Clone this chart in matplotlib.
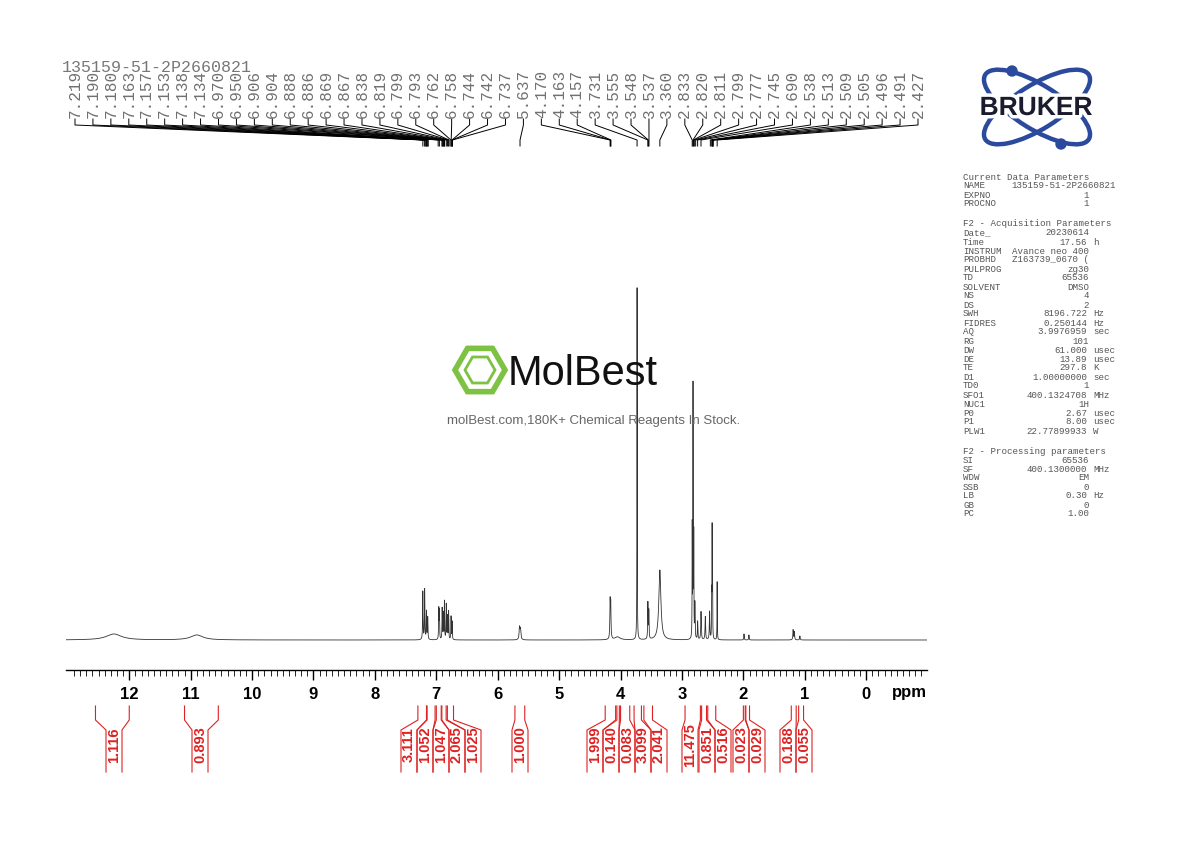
import numpy as np
import matplotlib
matplotlib.use("Agg")
import matplotlib.pyplot as plt
from matplotlib.patches import Ellipse, RegularPolygon, Circle
import matplotlib.patheffects as pe

W, H = 1190, 842
sample_name = "135159-51-2P2660821"

peak_labels = [7.219, 7.190, 7.180, 7.163, 7.157, 7.153, 7.138, 7.134, 6.970, 6.950,
               6.906, 6.904, 6.888, 6.886, 6.869, 6.867, 6.838, 6.819, 6.799, 6.793,
               6.762, 6.758, 6.744, 6.742, 6.737, 5.637, 4.170, 4.163, 4.157, 3.731,
               3.555, 3.548, 3.537, 3.360, 2.833, 2.820, 2.811, 2.799, 2.777, 2.745,
               2.690, 2.538, 2.513, 2.509, 2.505, 2.496, 2.491, 2.427]

peak_ppm = [12.25, 10.90, 7.22, 7.19, 7.16, 7.14, 6.96, 6.95, 6.905, 6.887, 6.868, 6.838,
            6.819, 6.80, 6.76, 6.743, 5.645, 5.630, 4.170, 4.160, 4.05, 3.731, 3.555, 3.540,
            3.360, 2.833, 2.820, 2.808, 2.79, 2.745, 2.69, 2.62, 2.55, 2.516, 2.509, 2.502,
            2.427, 1.99, 1.91, 1.19, 1.17, 1.08]
peak_height = [6, 5, 48, 50, 28, 22, 30, 28, 31, 26, 38, 35,
               23, 28, 23, 18, 12, 10, 36, 33, 3, 352, 36, 28,
               70, 110, 250, 100, 35, 18, 28, 23, 28, 40, 106, 55,
               58, 6, 5, 10, 8, 4]
peak_width = [0.15, 0.12, 0.004, 0.004, 0.004, 0.004, 0.0035, 0.0035, 0.0035, 0.0035, 0.0035, 0.0035,
              0.0035, 0.0035, 0.0035, 0.0035, 0.008, 0.008, 0.005, 0.005, 0.05, 0.0025, 0.004, 0.004,
              0.02, 0.0025, 0.0025, 0.0025, 0.004, 0.004, 0.005, 0.005, 0.005, 0.0025, 0.0025, 0.0025,
              0.0025, 0.004, 0.004, 0.005, 0.005, 0.005]

integ_left = [12.55, 11.10, 7.30, 7.15, 7.00, 6.91, 6.82, 5.72, 4.25, 4.06, 4.00, 3.78, 3.62,
              2.95, 2.68, 2.58, 2.00, 1.96, 1.22, 1.10]
integ_right = [12.00, 10.55, 7.16, 7.02, 6.92, 6.84, 6.72, 5.56, 4.08, 4.02, 3.85, 3.66, 3.48,
               2.70, 2.60, 2.45, 1.97, 1.90, 1.14, 1.02]
integ_value = ["1.116", "0.893", "3.111", "1.052", "1.047", "2.065", "1.025", "1.000", "1.999",
               "0.140", "0.083", "3.099", "2.041", "11.475", "0.851", "0.516", "0.023", "0.029",
               "0.188", "0.055"]
integ_label_px = [114, 200, 409, 425, 441, 457, 473, 520, 595, 611, 627, 643, 659,
                  690, 707, 723, 741, 757, 788, 804]

x_ticks = list(range(12, -1, -1))

params = [
    ("Current Data Parameters", None, None),
    ("NAME", "135159-51-2P2660821", "name"), ("EXPNO", "1", ""), ("PROCNO", "1", ""),
    None,
    ("F2 - Acquisition Parameters", None, None),
    ("Date_", "20230614", ""), ("Time", "17.56", "h"), ("INSTRUM", "Avance neo 400", ""),
    ("PROBHD", "Z163739_0670 (", ""), ("PULPROG", "zg30", ""), ("TD", "65536", ""),
    ("SOLVENT", "DMSO", ""), ("NS", "4", ""), ("DS", "2", ""), ("SWH", "8196.722", "Hz"),
    ("FIDRES", "0.250144", "Hz"), ("AQ", "3.9976959", "sec"), ("RG", "101", ""),
    ("DW", "61.000", "usec"), ("DE", "13.89", "usec"), ("TE", "297.8", "K"),
    ("D1", "1.00000000", "sec"), ("TD0", "1", ""), ("SFO1", "400.1324708", "MHz"),
    ("NUC1", "1H", ""), ("P0", "2.67", "usec"), ("P1", "8.00", "usec"),
    ("PLW1", "22.77899933", "W"),
    None,
    ("F2 - Processing parameters", None, None),
    ("SI", "65536", ""), ("SF", "400.1300000", "MHz"), ("WDW", "EM", ""), ("SSB", "0", ""),
    ("LB", "0.30", "Hz"), ("GB", "0", ""), ("PC", "1.00", ""),
]

fig = plt.figure(figsize=(W / 100, H / 100), dpi=100)
fig.patch.set_facecolor("white")

X0, X1 = 13.03, -0.99
ax = fig.add_axes([66 / W, 1 - 660 / H, 861 / W, 600 / H])
ax.set_xlim(X0, X1)
ax.set_ylim(-20, 580)
ax.axis("off")

def px2ppm(px):
    return X0 + (px - 66) / 861 * (X1 - X0)

def py2y(py):
    return 640 - py

# spectrum
x = np.linspace(X0, X1, 150000)
y = np.zeros_like(x)
for p, h, w in zip(peak_ppm, peak_height, peak_width):
    y += h / (1 + ((x - p) / w) ** 2)
ax.plot(x, y, color="#333333", lw=0.6)

# peak labels
mono = "Liberation Mono"
n = len(peak_labels)
for i, v in enumerate(peak_labels):
    lx = px2ppm(75 + i * (918 - 75) / (n - 1))
    ax.text(lx, py2y(118), f"{v:.3f}", rotation=90, ha="center", va="bottom",
            fontsize=11.5, family=mono, color="#707070", clip_on=False)
    ax.plot([lx, lx, v, v], [py2y(119), py2y(125), py2y(140), py2y(146)],
            color="black", lw=0.7, clip_on=False)

fig.text(62 / W, 1 - 68 / H, sample_name, fontsize=12, family=mono, color="#777777",
         va="center", ha="left")

# integrals
red = "#dd2222"
for l, r, v, lp in zip(integ_left, integ_right, integ_value, integ_label_px):
    c = px2ppm(lp)
    d = (X0 - X1) / 861 * 8
    ax.plot([l, l, c + d, c + d], [py2y(706), py2y(720), py2y(730), py2y(772)],
            color=red, lw=0.8, clip_on=False)
    ax.plot([r, r, c - d, c - d], [py2y(706), py2y(720), py2y(730), py2y(772)],
            color=red, lw=0.8, clip_on=False)
    ax.text(c, py2y(745), v, rotation=90, ha="center", va="center", color=red,
            fontsize=10.5, fontweight="bold", family="Liberation Sans", clip_on=False)

# ppm axis
ax2 = fig.add_axes([66 / W, 1 - 670 / H, 861 / W, 0.0001])
ax2.set_xlim(X0, X1)
for s in ["top", "left", "right"]:
    ax2.spines[s].set_visible(False)
ax2.spines["bottom"].set_linewidth(1.0)
ax2.set_yticks([])
ax2.set_xticks(x_ticks)
ax2.set_xticklabels([str(t) for t in x_ticks], fontsize=12, fontweight="bold",
                    family="Liberation Sans")
ax2.set_xticks(np.arange(-0.9, 13.0, 0.1), minor=True)
ax2.tick_params(axis="x", which="major", length=7, width=1, pad=5)
ax2.tick_params(axis="x", which="minor", length=4, width=0.6)
fig.text(909 / W, 1 - 692 / H, "ppm", fontsize=12, fontweight="bold",
         family="Liberation Sans", ha="center", va="center")

# parameter panel
py = 177
pc = "#555555"
fs = 6.6
for row in params:
    if row is None:
        py += 11
        continue
    k, v, u = row
    fig.text(963 / W, 1 - py / H, k, fontsize=fs, family=mono, color=pc, va="center")
    if v is not None:
        if u == "name":
            fig.text(1116 / W, 1 - py / H, v, fontsize=fs, family=mono, color=pc,
                     va="center", ha="right")
        elif u:
            fig.text(1087 / W, 1 - py / H, v, fontsize=fs, family=mono, color=pc,
                     va="center", ha="right")
            fig.text(1093 / W, 1 - py / H, u, fontsize=fs, family=mono, color=pc,
                     va="center", ha="left")
        else:
            fig.text(1089 / W, 1 - py / H, v, fontsize=fs, family=mono, color=pc,
                     va="center", ha="right")
    py += 9.0

# Bruker logo
lax = fig.add_axes([0, 0, 1, 1], zorder=5)
lax.set_xlim(0, W)
lax.set_ylim(H, 0)
lax.axis("off")
blue = "#2b4a9e"
for ang in (32, -32):
    lax.add_patch(Ellipse((1037, 107), 122, 44, angle=ang, fill=False, ec=blue, lw=3.2))
lax.add_patch(Circle((1012, 71), 5, color=blue))
lax.add_patch(Circle((1061, 144), 5, color=blue))
lax.text(1036, 108, "BRUKER", fontsize=19, fontweight="bold", family="Liberation Sans",
         ha="center", va="center", color="#1b1b2f",
         path_effects=[pe.withStroke(linewidth=5, foreground="white")])

# watermark
green = "#7dc242"
lax.add_patch(RegularPolygon((480, 370), 6, radius=25, orientation=np.pi / 6,
                             fill=False, ec=green, lw=4))
lax.add_patch(RegularPolygon((480, 370), 6, radius=15, orientation=np.pi / 6,
                             fill=False, ec=green, lw=2))
lax.text(508, 374, "MolBest", fontsize=30, family="Liberation Sans", ha="left",
         va="center", color="#111111")
lax.text(594, 421, "molBest.com,180K+ Chemical Reagents In Stock.", fontsize=9.5,
         family="Liberation Sans", color="#666666", ha="center", va="center")

fig.savefig("out.png", dpi=100, facecolor="white")
